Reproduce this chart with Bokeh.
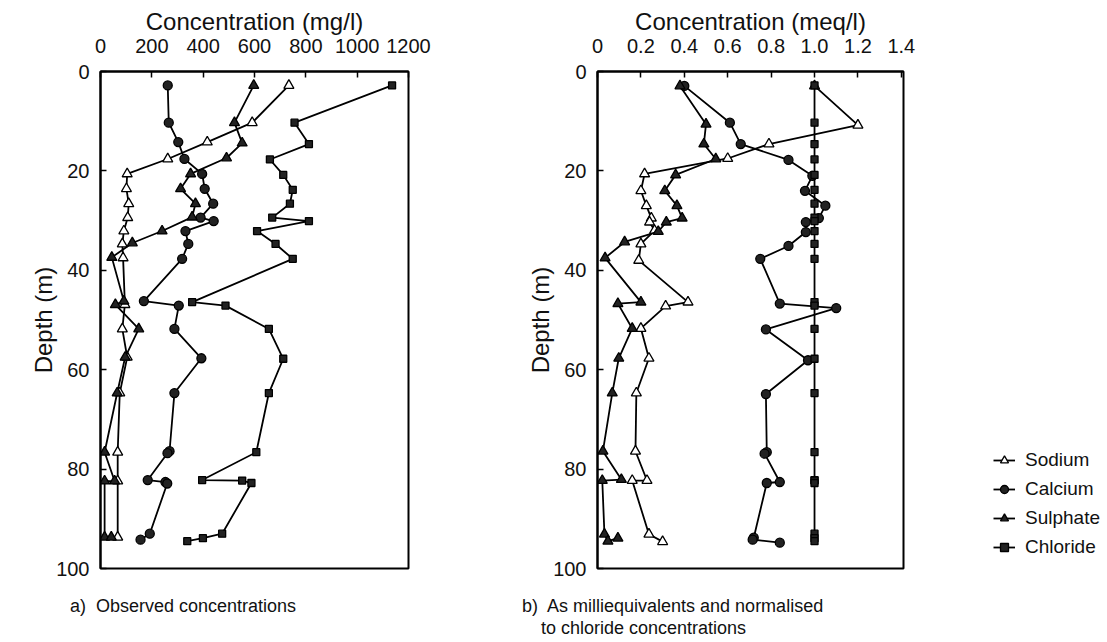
from bokeh.plotting import figure
from bokeh.models import Range1d, FixedTicker, Legend, LegendItem, Div
from bokeh.layouts import row, column
from bokeh.embed import file_html
from bokeh.resources import INLINE

FONT = "Liberation Sans"

# ---------------- Panel a: observed concentrations (mg/l) ----------------
na_a_depth = [2.8, 10.3, 14.2, 17.6, 20.6, 23.6, 26.6, 29.4, 32.1, 34.7, 37.5, 46.9, 51.8, 57.5, 64.7, 76.6, 82.4, 93.7]
na_a_conc = [734, 591, 416, 262, 104, 101, 110, 106, 91, 85, 88, 95, 85, 104, 75, 67, 67, 67]

ca_a_depth = [2.8, 10.3, 14.2, 17.6, 20.6, 23.6, 26.6, 29.4, 30.1, 32.1, 34.7, 37.7, 46.2, 47.1, 51.8, 57.7, 64.7, 76.4, 76.8, 82.2, 82.6, 82.9, 93.0, 94.2]
ca_a_conc = [262, 266, 303, 327, 396, 406, 439, 390, 441, 331, 342, 318, 169, 305, 288, 393, 288, 269, 261, 184, 253, 260, 192, 156]

so4_a_depth = [2.8, 10.3, 14.4, 17.4, 20.6, 23.6, 26.6, 29.3, 32.1, 34.5, 37.4, 46.2, 46.9, 51.8, 57.5, 64.7, 76.6, 82.4, 82.4, 93.7, 93.7]
so4_a_conc = [597, 522, 552, 491, 351, 312, 370, 357, 240, 124, 44, 91, 58, 149, 96, 65, 16, 55, 16, 16, 42]

cl_a_depth = [2.8, 10.3, 14.6, 17.7, 20.8, 23.8, 26.6, 29.4, 30.1, 32.1, 34.7, 37.7, 46.4, 47.1, 51.8, 57.8, 64.7, 76.6, 82.2, 82.3, 82.8, 93.0, 93.9, 94.5]
cl_a_conc = [1136, 756, 812, 660, 712, 749, 738, 669, 812, 610, 682, 749, 357, 487, 656, 712, 656, 607, 396, 552, 588, 474, 399, 338]

# ---------------- Panel b: meq/l normalised to chloride ----------------
na_b_depth = [2.9, 10.8, 14.6, 17.5, 20.6, 24.0, 27.0, 29.5, 30.3, 32.0, 34.7, 38.0, 46.4, 47.2, 51.7, 57.7, 64.7, 76.4, 82.3, 82.3, 93.1, 94.6]
na_b_conc = [1.0, 1.2, 0.79, 0.60, 0.217, 0.20, 0.225, 0.248, 0.24, 0.263, 0.20, 0.19, 0.417, 0.314, 0.20, 0.237, 0.179, 0.175, 0.228, 0.16, 0.237, 0.30]

ca_b_depth = [2.9, 10.3, 14.6, 17.8, 21.0, 24.0, 27.0, 29.5, 30.3, 32.3, 35.1, 37.7, 46.7, 47.6, 51.9, 58.1, 64.9, 76.6, 76.9, 82.6, 82.8, 93.8, 94.2, 94.8]
ca_b_conc = [0.40, 0.61, 0.66, 0.88, 0.99, 0.956, 1.05, 1.02, 0.96, 0.96, 0.88, 0.75, 0.84, 1.10, 0.776, 0.97, 0.776, 0.78, 0.77, 0.84, 0.78, 0.72, 0.715, 0.84]

so4_b_depth = [2.9, 10.6, 14.6, 17.6, 20.8, 24.0, 27.0, 29.5, 30.3, 32.2, 34.3, 37.5, 46.4, 46.7, 51.7, 57.7, 64.7, 76.4, 82.1, 82.3, 93.1, 94.5, 93.9]
so4_b_conc = [0.38, 0.50, 0.49, 0.545, 0.36, 0.31, 0.366, 0.39, 0.317, 0.28, 0.125, 0.035, 0.20, 0.094, 0.16, 0.098, 0.068, 0.025, 0.11, 0.022, 0.032, 0.048, 0.094]

cl_b_depth = cl_a_depth
cl_b_conc = [1.0] * len(cl_a_depth)

depth_ticks = [0, 20, 40, 60, 80, 100]
a_ticks = [0, 200, 400, 600, 800, 1000, 1200]
b_ticks = [0, 0.2, 0.4, 0.6, 0.8, 1.0, 1.2, 1.4]
b_tick_labels = ["0", "0.2", "0.4", "0.6", "0.8", "1.0", "1.2", "1.4"]

SERIES = [
    ("Sodium", "triangle", "white", 10),
    ("Calcium", "circle", "#222222", 9),
    ("Sulphate", "triangle", "#222222", 10),
    ("Chloride", "square", "#222222", 7),
]

HTOP = 582
FRAME_TOP = 71
FRAME_BOTTOM = 568


def make_panel(width, xmax, xticks, xlabel, mb_left, mb_right):
    p = figure(width=width, height=HTOP, x_range=Range1d(0, xmax), y_range=Range1d(100, 0),
               x_axis_location="above", output_backend="svg", toolbar_location=None)
    p.min_border_left = mb_left
    p.min_border_right = mb_right
    p.min_border_top = FRAME_TOP
    p.min_border_bottom = HTOP - FRAME_BOTTOM
    p.xgrid.visible = False
    p.ygrid.visible = False
    p.outline_line_color = "black"
    p.outline_line_width = 2
    p.outline_line_alpha = 1
    p.background_fill_color = "white"
    p.border_fill_color = "white"
    p.xaxis.ticker = FixedTicker(ticks=xticks)
    p.yaxis.ticker = FixedTicker(ticks=depth_ticks)
    p.xaxis.axis_label = xlabel
    p.yaxis.axis_label = "Depth (m)"
    for ax in (p.xaxis[0], p.yaxis[0]):
        ax.axis_line_width = 2
        ax.axis_line_color = "black"
        ax.major_tick_in = 6
        ax.major_tick_out = 0
        ax.major_tick_line_width = 1.5
        ax.major_tick_line_color = "black"
        ax.minor_tick_line_color = None
        ax.major_label_text_font = FONT
        ax.major_label_text_font_size = "20px"
        ax.major_label_text_color = "#111111"
        ax.axis_label_text_font = FONT
        ax.axis_label_text_font_size = "24px"
        ax.axis_label_text_font_style = "normal"
        ax.axis_label_text_color = "#111111"
    p.xaxis.major_label_standoff = 19
    p.xaxis.axis_label_standoff = 1
    p.yaxis.major_label_standoff = 11
    p.yaxis.axis_label_standoff = -4
    return p


def draw(p, data):
    for (name, marker, fill, size), (d, c) in zip(SERIES, data):
        p.line(c, d, line_color="black", line_width=1.8)
        p.scatter(c, d, marker=marker, size=size, fill_color=fill,
                  line_color="black", line_width=1.3)


p1 = make_panel(508, 1200, a_ticks, "Concentration (mg/l)", 100, 100)
draw(p1, [(na_a_depth, na_a_conc), (ca_a_depth, ca_a_conc),
          (so4_a_depth, so4_a_conc), (cl_a_depth, cl_a_conc)])

p2 = make_panel(410, 1.41, b_ticks, "Concentration (meq/l)", 89, 15)
p2.xaxis.major_label_overrides = dict(zip(b_ticks, b_tick_labels))
draw(p2, [(na_b_depth, na_b_conc), (ca_b_depth, ca_b_conc),
          (so4_b_depth, so4_b_conc), (cl_b_depth, cl_b_conc)])

# Legend panel (keys only)
p3 = figure(width=182, height=HTOP, x_range=Range1d(0, 1), y_range=Range1d(0, 1),
            x_axis_location=None, y_axis_location=None,
            output_backend="svg", toolbar_location=None)
p3.min_border = 0
p3.xgrid.visible = False
p3.ygrid.visible = False
p3.outline_line_color = None
p3.background_fill_color = "white"
p3.border_fill_color = "white"
nan = float("nan")
items = []
for name, marker, fill, size in SERIES:
    ln = p3.line([nan], [nan], line_color="black", line_width=1.8)
    sc = p3.scatter([nan], [nan], marker=marker, size=7, fill_color=fill,
                    line_color="black", line_width=1.3)
    items.append(LegendItem(label=name, renderers=[ln, sc]))
legend = Legend(items=items, location=(75, 10))
legend.border_line_color = None
legend.background_fill_alpha = 0
legend.label_text_font = FONT
legend.label_text_font_size = "19px"
legend.label_text_color = "#111111"
legend.glyph_width = 22
legend.glyph_height = 20
legend.label_height = 20
legend.spacing = 7
legend.padding = 0
legend.margin = 0
legend.label_standoff = 10
p3.add_layout(legend)

span = "position:absolute;white-space:pre;line-height:22px;"
captions = Div(width=1100, height=54, text=(
    f'<div style="position:relative;width:1100px;height:54px;font-family:\'{FONT}\';'
    f'font-size:18px;color:#111111;">'
    f'<span style="{span}left:65px;top:8px;">a)  Observed concentrations</span>'
    f'<span style="{span}left:517px;top:8px;">b)  As milliequivalents and normalised</span>'
    f'<span style="{span}left:536px;top:30px;">to chloride concentrations</span>'
    f'</div>'))

layout = column(row(p1, p2, p3), captions)
open("out.html", "w").write(file_html(layout, INLINE))
